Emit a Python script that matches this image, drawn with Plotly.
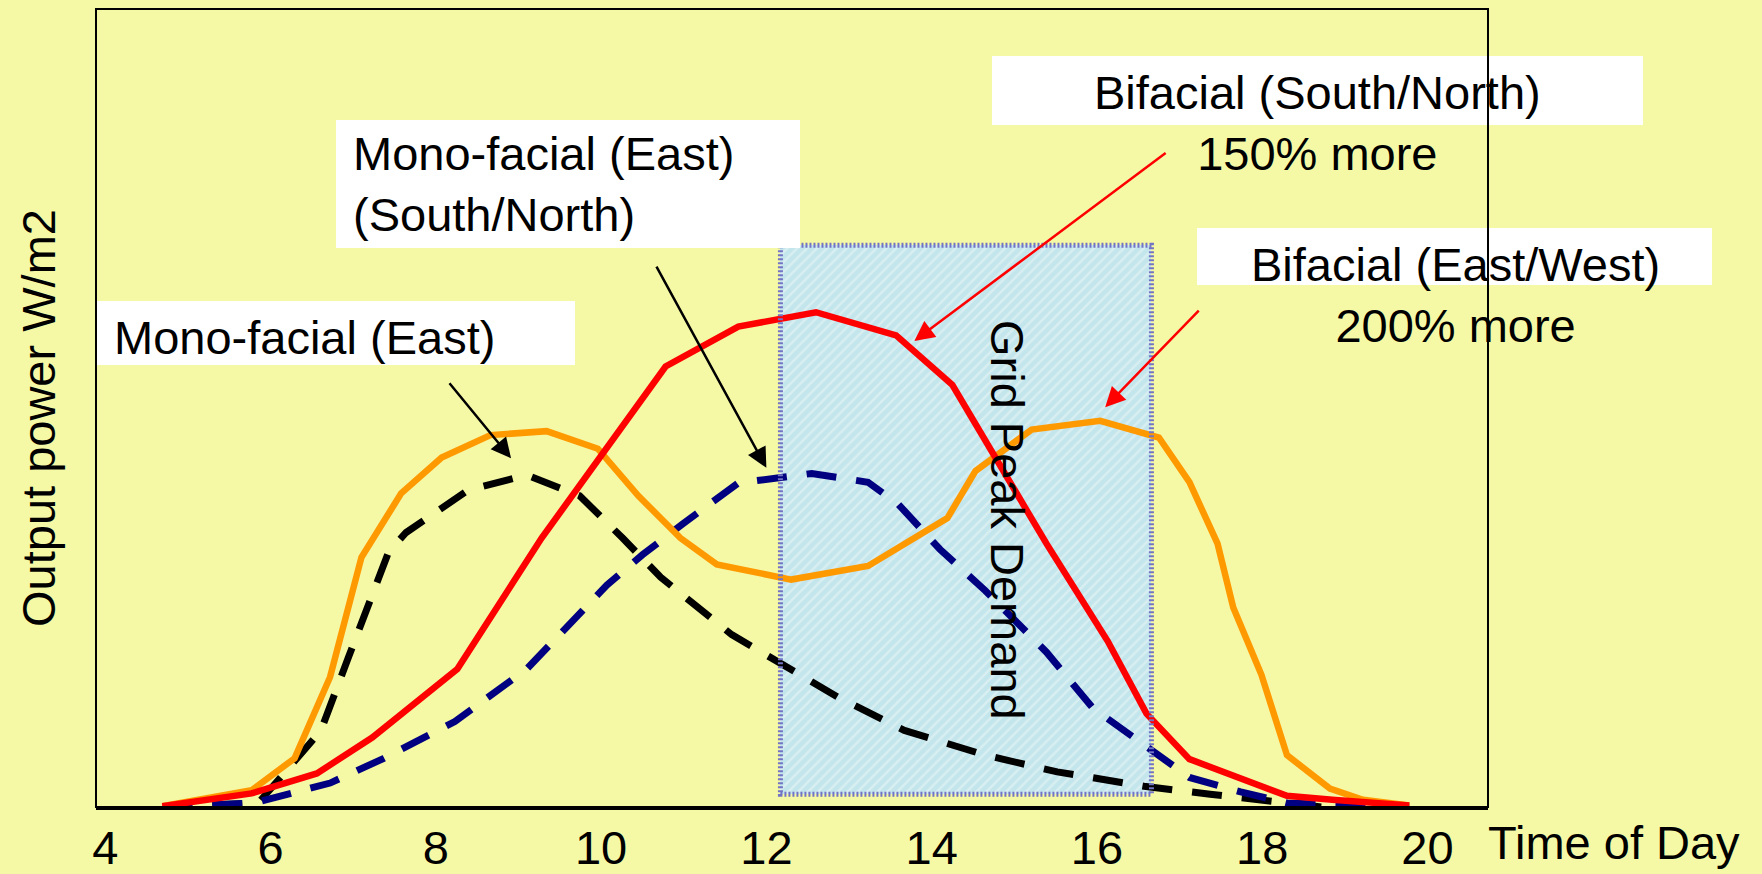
import plotly.graph_objects as go

# ---------------- data ----------------
hours_red = [4.69, 5.77, 6.56, 7.23, 8.26, 9.28, 10.78, 11.66, 12.60, 13.57, 14.25,
             15.39, 16.13, 16.60, 17.12, 17.74, 18.30, 18.85, 19.78]
bifacial_south_north = [0.1, 1.7, 4.2, 8.7, 17.3, 33.7, 55.2, 60.2, 62.0, 59.1, 52.9,
                        33.0, 20.8, 11.7, 6.0, 3.5, 1.4, 0.9, 0.2]

hours_orange = [4.69, 5.77, 6.29, 6.72, 7.10, 7.58, 8.07, 8.66, 9.34, 9.96, 10.45, 10.96,
                11.40, 12.30, 13.23, 14.19, 14.53, 15.21, 16.04, 16.75, 17.12, 17.46,
                17.65, 17.99, 18.30, 18.82, 19.22, 19.78]
bifacial_east_west = [0.1, 2.1, 6.1, 16.3, 31.3, 39.3, 43.8, 46.6, 47.1, 44.9, 39.0, 33.7,
                      30.4, 28.5, 30.2, 36.2, 42.1, 47.3, 48.4, 46.3, 40.7, 33.0,
                      25.0, 16.6, 6.5, 2.3, 0.9, 0.2]

hours_black = [4.69, 5.85, 6.12, 6.61, 6.94, 7.43, 7.64, 8.39, 9.10, 9.74, 10.26, 10.72,
               11.58, 12.12, 12.86, 13.67, 14.65, 15.52, 16.57, 17.37, 18.30, 18.73]
mono_east = [0.0, 0.5, 3.7, 9.6, 18.7, 32.0, 34.4, 39.7, 41.6, 39.0, 33.7, 28.8,
             21.6, 18.4, 13.8, 9.6, 6.5, 4.4, 2.6, 1.6, 0.5, 0.0]

hours_blue = [4.69, 5.80, 6.72, 7.37, 8.23, 9.10, 10.07, 10.50, 10.99, 11.66, 12.55,
              13.23, 13.60, 14.10, 14.65, 15.39, 15.95, 16.63, 17.12, 17.74, 18.30, 19.78]
mono_south_north = [0.0, 0.5, 3.0, 6.1, 10.7, 17.3, 27.8, 31.6, 35.5, 40.6, 41.8,
                    40.7, 37.9, 32.3, 27.1, 19.4, 12.4, 7.2, 3.7, 1.9, 0.5, 0.0]

peak_window = [12.17, 16.66]      # hours covered by "Grid Peak Demand"
peak_levels = [1.6, 70.4]         # lower / upper edge of the shaded band

tick_hours = [4, 6, 8, 10, 12, 14, 16, 18, 20]
tick_labels = ["4", "6", "8", "10", "12", "14", "16", "18", "20"]

# ---------------- layout helpers ----------------
W, H = 1762, 874
L, R, T, B = 96, 1488, 9, 807
FONT = "Liberation Sans, Arial, sans-serif"
FS = 47
BG = "#f5f9a6"


def px(x):
    return (x - L) / (R - L)


def py(y):
    return (B - y) / (B - T)


fig = go.Figure()

# shaded peak-demand band
fig.add_trace(go.Bar(
    x=[(peak_window[0] + peak_window[1]) / 2],
    y=[peak_levels[1] - peak_levels[0]],
    base=[peak_levels[0]],
    width=[peak_window[1] - peak_window[0]],
    marker=dict(color="#c3e5ec", line=dict(width=0),
                pattern=dict(shape="/", bgcolor="#c3e5ec", fgcolor="#eef8f6",
                             size=7, solidity=0.35)),
    showlegend=False, hoverinfo="skip"))

dash = "30px,20px"
fig.add_trace(go.Scatter(x=hours_black, y=mono_east, mode="lines",
                         line=dict(color="#000000", width=7, dash=dash), showlegend=False))
fig.add_trace(go.Scatter(x=hours_blue, y=mono_south_north, mode="lines",
                         line=dict(color="#000080", width=7, dash=dash), showlegend=False))
fig.add_trace(go.Scatter(x=hours_orange, y=bifacial_east_west, mode="lines",
                         line=dict(color="#ff9900", width=6.5), showlegend=False))
fig.add_trace(go.Scatter(x=hours_red, y=bifacial_south_north, mode="lines",
                         line=dict(color="#ff0000", width=6.5), showlegend=False))

shapes = []
# dotted border of the peak band
shapes.append(dict(type="rect", xref="x", yref="y",
                   x0=peak_window[0], x1=peak_window[1], y0=peak_levels[0], y1=peak_levels[1],
                   line=dict(color="#7474c4", width=5, dash="2px,2px"), layer="above"))
# white label boxes
for (x0, y0, x1, y1) in [(97, 301, 575, 365), (336, 120, 800, 248),
                         (992, 56, 1643, 125), (1197, 228, 1712, 285)]:
    shapes.append(dict(type="rect", xref="paper", yref="paper",
                       x0=px(x0), x1=px(x1), y0=py(y1), y1=py(y0),
                       fillcolor="white", line=dict(width=0), layer="above"))
# plot frame
shapes.append(dict(type="rect", xref="paper", yref="paper", x0=0, x1=1, y0=0, y1=1,
                   line=dict(color="black", width=2), layer="above"))

ann = []


def label(text, x, y, xanchor="left", align="left", angle=0, size=FS):
    ann.append(dict(text=text, x=px(x), y=py(y), xref="paper", yref="paper",
                    xanchor=xanchor, yanchor="middle", align=align, textangle=angle,
                    showarrow=False, font=dict(family=FONT, size=size, color="black")))


label("Mono-facial (East)", 112, 338)
label("Mono-facial (East)<br>(South/North)", 351, 184)
label("Bifacial (South/North)<br>150% more", 1317, 123, xanchor="center", align="center")
label("Bifacial (East/West)<br>200% more", 1455, 295, xanchor="center", align="center")
label("Grid Peak Demand", 1008, 520, xanchor="center", angle=90)
label("Output power W/m2", 39, 418, xanchor="center", angle=-90)
label("Time of Day", 1486, 843)


def arrow(head, tail, color):
    ann.append(dict(text="", x=head[0], y=head[1], ax=tail[0], ay=tail[1],
                    xref="x", yref="y", axref="x", ayref="y", showarrow=True,
                    arrowhead=2, arrowsize=1.6, arrowwidth=2.5, arrowcolor=color))


arrow((8.91, 43.7), (8.15, 53.3), "black")
arrow((12.0, 42.5), (10.66, 67.9), "black")
arrow((13.79, 58.4), (16.85, 82.1), "red")
arrow((16.10, 50.1), (17.25, 62.4), "red")

fig.update_layout(
    width=W, height=H,
    margin=dict(l=L, r=W - R, t=T, b=H - B, pad=0, autoexpand=False),
    paper_bgcolor=BG, plot_bgcolor=BG,
    shapes=shapes, annotations=ann,
    bargap=0, showlegend=False,
    xaxis=dict(range=[3.887, 20.733], tickvals=tick_hours, ticktext=tick_labels,
               showgrid=False, zeroline=False, showline=True, linecolor="black",
               linewidth=3, ticks="", ticklabelstandoff=-2, automargin=False,
               tickfont=dict(family=FONT, size=FS, color="black")),
    yaxis=dict(range=[0, 100], showticklabels=False, showgrid=False, zeroline=False,
               showline=False, ticks="", automargin=False),
)

fig.write_html("out.html", post_script="document.body.style.margin='0px';",
               config={"displayModeBar": False})
